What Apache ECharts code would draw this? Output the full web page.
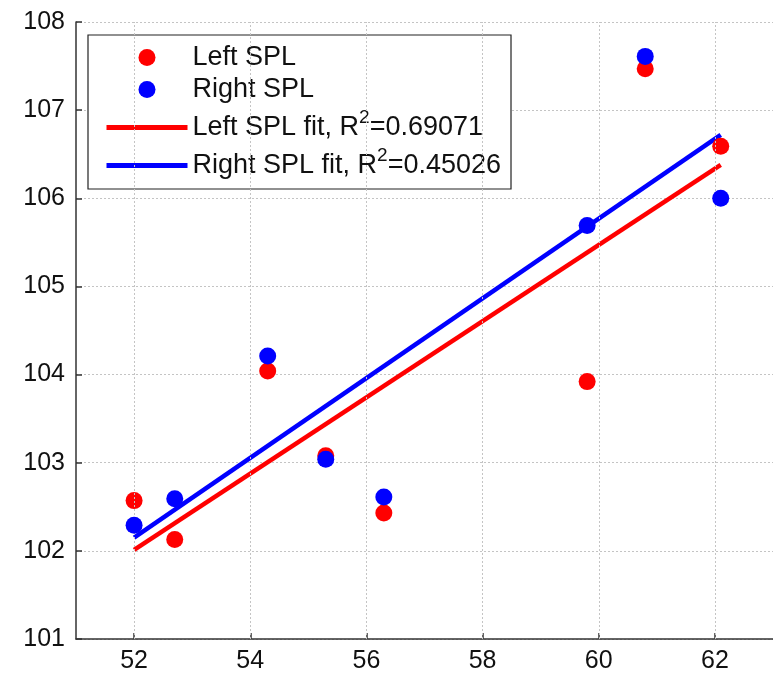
<!DOCTYPE html>
<html>
<head>
<meta charset="utf-8">
<script src="https://cdn.jsdelivr.net/npm/echarts@6/dist/echarts.min.js"></script>
<style>
  html, body { margin: 0; padding: 0; background: #fff; }
  #chart { width: 773px; height: 675px; }
</style>
</head>
<body>
<div id="chart"></div>
<script>
// Measurement positions and SPL readings (dB)
const xValues = [52, 52.7, 54.3, 55.3, 56.3, 59.8, 60.8, 62.1];
const leftSPL = [102.57, 102.13, 104.04, 103.08, 102.43, 103.92, 107.47, 106.59];
const rightSPL = [102.29, 102.59, 104.21, 103.04, 102.61, 105.69, 107.61, 106.00];

// Linear fit lines, evaluated at the ends of the measured range
const fitX = [52, 62.1];
const leftFit = [102.01, 106.38];
const rightFit = [102.15, 106.72];

const xTicks = [52, 54, 56, 58, 60, 62];
const yTicks = [101, 102, 103, 104, 105, 106, 107, 108];

const names = ['Left SPL', 'Right SPL', 'Left SPL fit, R^2=0.69071', 'Right SPL fit, R^2=0.45026'];

const pair = (xs, ys) => xs.map((x, i) => [x, ys[i]]);

const FONT = '"Liberation Sans", Arial, sans-serif';
const RED = '#ff0000';
const BLUE = '#0000ff';
const GRID_STYLE = { color: '#c4c4c4', type: [2, 2], width: 1 };

const chart = echarts.init(document.getElementById('chart'), null, { renderer: 'canvas' });

chart.setOption({
  animation: false,
  backgroundColor: '#ffffff',
  textStyle: { fontFamily: FONT },
  grid: { left: 76, top: 22, width: 705, height: 617, containLabel: false },
  legend: {
    data: [
      { name: names[0] },
      { name: names[1] },
      { name: names[2], itemStyle: { opacity: 0 }, lineStyle: { width: 5, color: RED } },
      { name: names[3], itemStyle: { opacity: 0 }, lineStyle: { width: 5, color: BLUE } }
    ],
    orient: 'vertical',
    left: 88,
    top: 35,
    padding: [9, 10, 10, 16],
    itemWidth: 81,
    itemHeight: 17,
    itemGap: 5,
    backgroundColor: '#ffffff',
    borderColor: '#222222',
    borderWidth: 1.2,
    borderRadius: 0,
    selectedMode: false,
    formatter: function (n) {
      const parts = n.split('^');
      if (parts.length === 1) return '{t|' + n + '}';
      return '{t|' + parts[0] + '}{s|' + parts[1].charAt(0) + '}{t|' + parts[1].slice(1) + '}';
    },
    textStyle: {
      fontFamily: FONT,
      fontSize: 27,
      color: '#111',
      rich: {
        t: { fontFamily: FONT, fontSize: 27, color: '#111' },
        s: { fontFamily: FONT, fontSize: 19, color: '#111', padding: [2, 0, 22, 0] }
      }
    }
  },
  xAxis: {
    type: 'value',
    min: 51,
    max: 63,
    interval: 1,
    axisLine: { show: true, onZero: false, lineStyle: { color: '#333', width: 1.5 } },
    axisTick: { show: true, inside: true, length: 6, customValues: xTicks,
      lineStyle: { color: '#333', width: 1.5 } },
    axisLabel: {
      fontFamily: FONT, fontSize: 25, color: '#111', margin: 10,
      customValues: xTicks
    },
    splitLine: { show: false }
  },
  yAxis: {
    type: 'value',
    min: 101,
    max: 108,
    interval: 1,
    axisLine: { show: true, onZero: false, lineStyle: { color: '#333', width: 1.5 } },
    axisTick: { show: true, inside: true, length: 6, lineStyle: { color: '#333', width: 1.5 } },
    axisLabel: {
      fontFamily: FONT, fontSize: 25, color: '#111', margin: 11,
      formatter: function (v) { return yTicks.indexOf(v) >= 0 ? String(v) : ''; }
    },
    splitLine: { show: true, lineStyle: GRID_STYLE }
  },
  series: [
    {
      // vertical grid lines at the labelled x ticks
      name: 'xgrid',
      type: 'line',
      data: [],
      silent: true,
      z: 1,
      markLine: {
        silent: true,
        symbol: 'none',
        label: { show: false },
        lineStyle: GRID_STYLE,
        data: xTicks.map(v => ({ xAxis: v }))
      }
    },
    {
      name: names[2],
      type: 'line',
      data: pair(fitX, leftFit),
      symbol: 'none',
      showSymbol: false,
      lineStyle: { color: RED, width: 4.5 },
      itemStyle: { color: RED },
      z: 2
    },
    {
      name: names[3],
      type: 'line',
      data: pair(fitX, rightFit),
      symbol: 'none',
      showSymbol: false,
      lineStyle: { color: BLUE, width: 4.5 },
      itemStyle: { color: BLUE },
      z: 3
    },
    {
      name: names[0],
      type: 'scatter',
      data: pair(xValues, leftSPL),
      symbol: 'circle',
      symbolSize: 17,
      itemStyle: { color: RED, opacity: 1 },
      z: 4
    },
    {
      name: names[1],
      type: 'scatter',
      data: pair(xValues, rightSPL),
      symbol: 'circle',
      symbolSize: 17,
      itemStyle: { color: BLUE, opacity: 1 },
      z: 5
    }
  ]
});
</script>
</body>
</html>
